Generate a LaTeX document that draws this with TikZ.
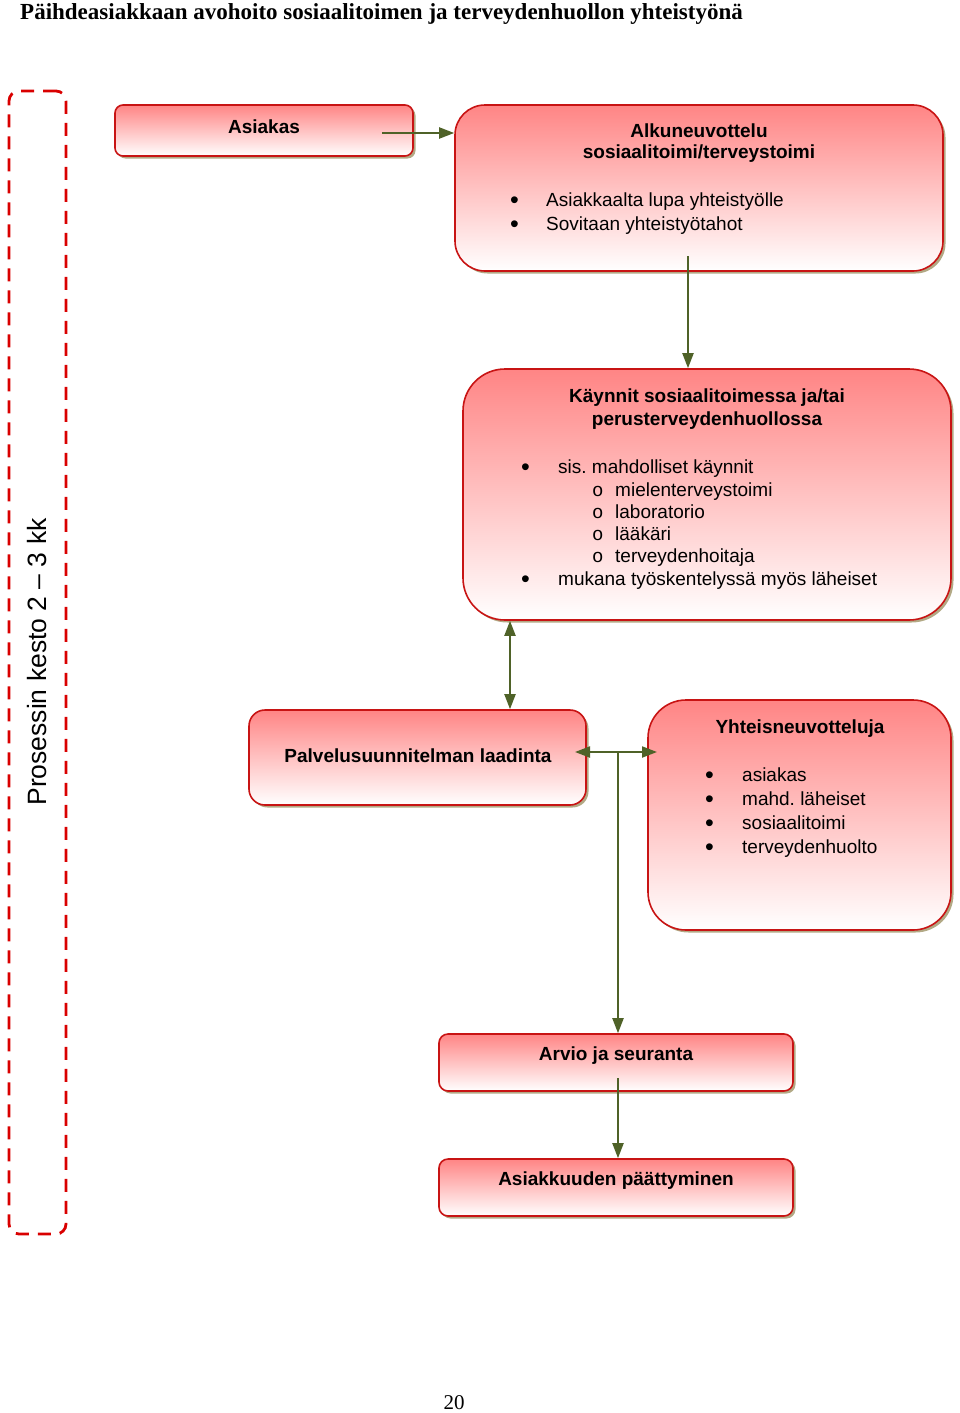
\documentclass[tikz,border=0pt]{standalone}
\usepackage{fontspec}
\setmainfont{Liberation Sans}
\newfontfamily\serifb{Liberation Serif}
\newfontfamily\monof{Liberation Mono}
\usetikzlibrary{arrows.meta,shadows}
\frenchspacing
\definecolor{arrowgreen}{RGB}{79,98,40}
\definecolor{boxred}{RGB}{200,20,20}
\definecolor{shadowtan}{RGB}{170,160,120}
\tikzset{
  box/.style={draw=boxred, line width=1.6pt, top color=red!48, bottom color=white,
    drop shadow={shadow xshift=2.5pt, shadow yshift=-2.5pt, fill=shadowtan, opacity=0.9}},
  conn/.style={draw=arrowgreen, line width=2pt, -{Triangle[length=15pt,width=11pt]}, arrowgreen},
  dconn/.style={draw=arrowgreen, line width=2pt, {Triangle[length=15pt,width=11pt]}-{Triangle[length=15pt,width=11pt]}, arrowgreen},
  txt/.style={font=\fontsize{19}{22}\selectfont, inner sep=0pt, anchor=base west},
  bul/.style={font=\fontsize{25}{25}\selectfont, inner sep=0pt, anchor=base west},
  sub/.style={font=\fontsize{19}{22}\selectfont\monof, inner sep=0pt, anchor=base west},
  btxt/.style={font=\fontsize{19}{22}\selectfont\bfseries, inner sep=0pt},
}
\begin{document}
\begin{tikzpicture}[x=1pt,y=-1pt]
\useasboundingbox (0,0) rectangle (960,1413);
% title
\node[font=\fontsize{23}{26}\selectfont\serifb\bfseries, anchor=base west, inner sep=0pt] (title) at (20,20) {Päihdeasiakkaan avohoito sosiaalitoimen ja terveydenhuollon yhteistyönä};
\node[font=\fontsize{21}{24}\selectfont\serifb, inner sep=0pt] (page) at (454,1403) {20};
% dashed frame
\node[draw=red!85!black, line width=2.8pt, dash pattern=on 13pt off 9pt, rounded corners=10pt, minimum width=57pt, minimum height=1143pt] (frame) at (37.5,662.5) {};
\node[rotate=90, font=\fontsize{26.5}{30}\selectfont, inner sep=0pt] (kesto) at (37,662) {Prosessin kesto 2 -- 3 kk};
% boxes
\node[box, rounded corners=8pt, minimum width=298pt, minimum height=51pt] (asiakas) at (264,130.5) {};
\node[box, rounded corners=30pt, minimum width=488pt, minimum height=166pt] (alku) at (699,188) {};
\node[box, rounded corners=42pt, minimum width=488pt, minimum height=251pt] (kaynnit) at (707,494.5) {};
\node[box, rounded corners=16pt, minimum width=337pt, minimum height=95pt] (palvelu) at (417.5,757.5) {};
\node[box, rounded corners=38pt, minimum width=303pt, minimum height=230pt] (yhteis) at (799.5,815) {};
\node[box, rounded corners=9pt, minimum width=354pt, minimum height=57pt] (arvio) at (616,1062.5) {};
\node[box, rounded corners=9pt, minimum width=354pt, minimum height=57pt] (loppu) at (616,1187.5) {};
% texts
\node[btxt] (tA) at (264,127) {Asiakas};
\node[btxt] (tB1) at (699,131) {Alkuneuvottelu};
\node[btxt] (tB2) at (699,154) {sosiaalitoimi/terveystoimi};
\node[bul] (b1) at (510,208) {\textbullet};
\node[txt] (tb1) at (546,206) {Asiakkaalta lupa yhteistyölle};
\node[bul] (b2) at (510,232) {\textbullet};
\node[txt] (tb2) at (546,230) {Sovitaan yhteistyötahot};
\node[btxt] (tC1) at (707,398) {Käynnit sosiaalitoimessa ja/tai};
\node[btxt] (tC2) at (707,421) {perusterveydenhuollossa};
\node[bul] (c1) at (521,475) {\textbullet};
\node[txt] (tc1) at (558,473) {sis. mahdolliset käynnit};
\node[sub] (c2) at (592,496) {o};
\node[txt] (tc2) at (615,496) {mielenterveystoimi};
\node[sub] (c3) at (592,518) {o};
\node[txt] (tc3) at (615,518) {laboratorio};
\node[sub] (c4) at (592,540) {o};
\node[txt] (tc4) at (615,540) {lääkäri};
\node[sub] (c5) at (592,562) {o};
\node[txt] (tc5) at (615,562) {terveydenhoitaja};
\node[bul] (c6) at (521,587) {\textbullet};
\node[txt] (tc6) at (558,585) {mukana työskentelyssä myös läheiset};
\node[btxt] (tD) at (418,756) {Palvelusuunnitelman laadinta};
\node[btxt] (tE) at (800,729) {Yhteisneuvotteluja};
\node[bul] (e1) at (705,783) {\textbullet};
\node[txt] (te1) at (742,781) {asiakas};
\node[bul] (e2) at (705,807) {\textbullet};
\node[txt] (te2) at (742,805) {mahd. läheiset};
\node[bul] (e3) at (705,831) {\textbullet};
\node[txt] (te3) at (742,829) {sosiaalitoimi};
\node[bul] (e4) at (705,855) {\textbullet};
\node[txt] (te4) at (742,853) {terveydenhuolto};
\node[btxt] (tF) at (616,1056) {Arvio ja seuranta};
\node[btxt] (tG) at (616,1181) {Asiakkuuden päättyminen};
% connectors
\coordinate (a1) at (382,133);
\coordinate (b1s) at (688,256);
\coordinate (ar1) at (618,1078);
\coordinate (hL) at (575,752);
\coordinate (hR) at (657,752);
\coordinate (hM) at (618,752);
\coordinate (vK) at (510,622);
\draw[conn] (a1) -- (alku.west |- a1);
\draw[conn] (b1s) -- (b1s |- kaynnit.north);
\draw[dconn] (vK |- kaynnit.south) -- (vK |- palvelu.north);
\draw[dconn] (hL) -- (hR);
\draw[conn] (hM) -- (hM |- arvio.north);
\draw[conn] (ar1) -- (ar1 |- loppu.north);
\end{tikzpicture}
\end{document}
